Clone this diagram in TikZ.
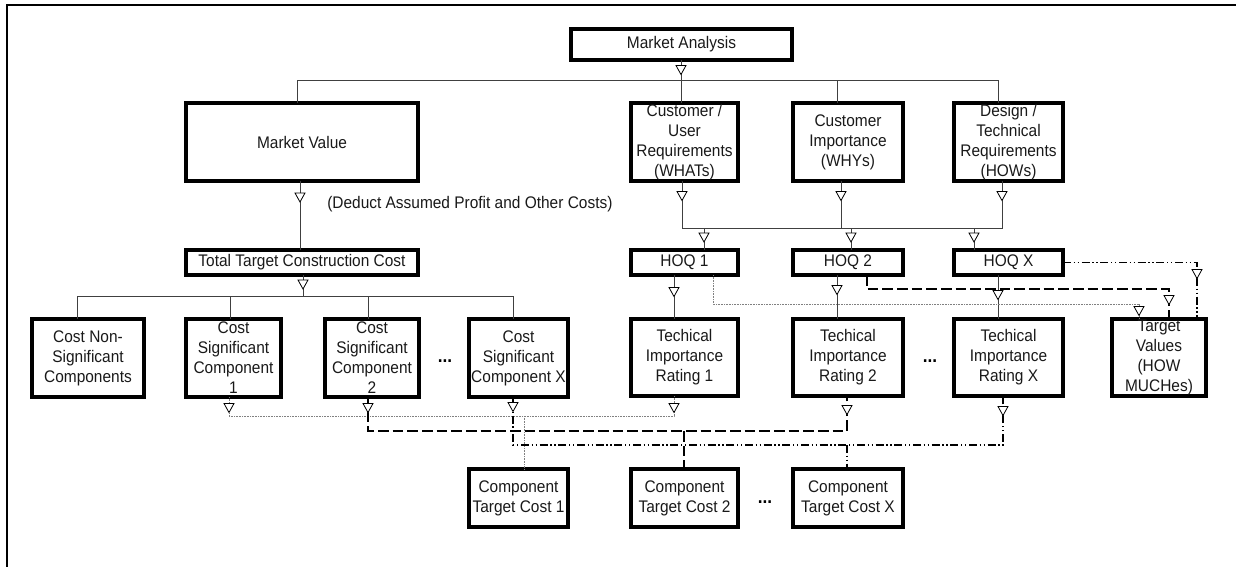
\documentclass[tikz,border=0pt]{standalone}
\usepackage{fontspec}
\setmainfont{Liberation Sans}[FakeStretch=0.92]
\tikzset{
  bx/.style={draw=black,line width=3pt,inner sep=0pt,outer sep=0pt,align=center,
    font=\fontsize{12.6}{15}\selectfont,text=black!90},
  conn/.style={draw=black!75,line width=0.75pt},
  dotl/.style={draw=black!50,line width=0.6pt,dash pattern=on 0.6pt off 0.6pt},
  dashl/.style={draw=black,line width=1.5pt,dash pattern=on 8pt off 3pt},
  ddotl/.style={draw=black,line width=1.2pt,dash pattern=on 6pt off 2pt on 1pt off 2pt on 1pt off 2pt},
  tri/.pic={\draw[black,line width=0.6pt,fill=white] (-5,-4.5) -- (5,-4.5) -- (0,4.5) -- cycle;},
  lbl/.style={font=\fontsize{12.6}{15}\selectfont,text=black!90,inner sep=0pt},
  dots/.style={font=\fontsize{14}{15}\selectfont\bfseries,inner sep=0pt}
}
\begin{document}
\begin{tikzpicture}[x=0.75pt,y=-0.75pt]
\useasboundingbox (0,0) rectangle (1236,567);
% frame
\draw[line width=2pt] (1236,5) -- (7,5) -- (7,567);

% boxes
\node[bx,minimum width=165.75pt,minimum height=23.25pt] (MA) at (681.5,44.5) {Market Analysis};
\node[bx,minimum width=174pt,minimum height=58.5pt] (MV) at (302,142) {Market Value};
\node[bx,minimum width=174pt,minimum height=18.75pt] (TTCC) at (302,262.5) {Total Target Construction Cost};
\node[bx,minimum width=80.25pt,minimum height=58.5pt] (CUR) at (684.5,142) {Customer /\\User\\Requirements\\(WHATs)};
\node[bx,minimum width=82.5pt,minimum height=58.5pt] (CI) at (848,142) {Customer\\Importance\\(WHYs)};
\node[bx,minimum width=81.75pt,minimum height=58.5pt] (DTR) at (1008.5,142) {Design /\\Technical\\Requirements\\(HOWs)};
\node[bx,minimum width=80.25pt,minimum height=18.75pt] (HOQ1) at (684.5,262.5) {HOQ 1};
\node[bx,minimum width=82.5pt,minimum height=18.75pt] (HOQ2) at (848,262.5) {HOQ 2};
\node[bx,minimum width=81.75pt,minimum height=18.75pt] (HOQX) at (1008.5,262.5) {HOQ X};
\node[bx,minimum width=80.25pt,minimum height=57.75pt] (TIR1) at (684.5,357.5) {Techical\\Importance\\Rating 1};
\node[bx,minimum width=82.5pt,minimum height=57.75pt] (TIR2) at (848,357.5) {Techical\\Importance\\Rating 2};
\node[bx,minimum width=81.75pt,minimum height=57.75pt] (TIRX) at (1008.5,357.5) {Techical\\Importance\\Rating X};
\node[bx,minimum width=70.5pt,minimum height=57.75pt] (TV) at (1159,357.5) {Target\\Values\\(HOW\\MUCHes)};
\node[bx,minimum width=84pt,minimum height=58.5pt] (CNS) at (88,358) {Cost Non-\\Significant\\Components};
\node[bx,minimum width=71.25pt,minimum height=58.5pt] (CSC1) at (233.5,358) {Cost\\Significant\\Component\\1};
\node[bx,minimum width=70.5pt,minimum height=58.5pt] (CSC2) at (372,358) {Cost\\Significant\\Component\\2};
\node[bx,minimum width=74.25pt,minimum height=58.5pt] (CSCX) at (518.5,358) {Cost\\Significant\\Component X};
\node[bx,minimum width=74.25pt,minimum height=43.5pt] (CTC1) at (518.5,498) {Component\\Target Cost 1};
\node[bx,minimum width=80.25pt,minimum height=43.5pt] (CTC2) at (684.5,498) {Component\\Target Cost 2};
\node[bx,minimum width=82.5pt,minimum height=43.5pt] (CTCX) at (848,498) {Component\\Target Cost X};

\node[lbl,anchor=west] (ded) at (327,204) {(Deduct Assumed Profit and Other Costs)};
\node[dots] (d1) at (445,361) {...};
\node[dots] (d2) at (930,361) {...};
\node[dots] (d3) at (765,502) {...};

% solid connectors
\draw[conn] (MA.south -| 681,0) -- (681,0 |- CUR.north);
\draw[conn] (297,0 |- MV.north) -- (297,81) -- (998,81) -- (998,0 |- DTR.north);
\draw[conn] (837,81) -- (837,0 |- CI.north);
\draw[conn] (300,0 |- MV.south) -- (300,0 |- TTCC.north);
\draw[conn] (303,0 |- TTCC.south) -- (303,296);
\draw[conn] (77,0 |- CNS.north) -- (77,296) -- (513,296) -- (513,0 |- CSCX.north);
\draw[conn] (230,296) -- (230,0 |- CSC1.north);
\draw[conn] (368,296) -- (368,0 |- CSC2.north);
\draw[conn] (682,0 |- CUR.south) -- (682,228) -- (1002,228) -- (1002,0 |- DTR.south);
\draw[conn] (841,0 |- CI.south) -- (841,228);
\draw[conn] (704,228) -- (704,0 |- HOQ1.north);
\draw[conn] (851,228) -- (851,0 |- HOQ2.north);
\draw[conn] (974,228) -- (974,0 |- HOQX.north);
\draw[conn] (674,0 |- HOQ1.south) -- (674,0 |- TIR1.north);
\draw[conn] (837,0 |- HOQ2.south) -- (837,0 |- TIR2.north);
\draw[conn] (998,0 |- HOQX.south) -- (998,0 |- TIRX.north);

% HOQ -> target values
\draw[dotl] (713,0 |- HOQ1.south) -- (713,304) -- (1139,304) -- (1139,0 |- TV.north);
\draw[dashl] (867,0 |- HOQ2.south) -- (867,289) -- (1169,289) -- (1169,0 |- TV.north);
\draw[ddotl] (HOQX.east) -- (1197,0 |- HOQX.east) -- (1197,0 |- TV.north);

% bottom combinations
\draw[dotl] (229,0 |- CSC1.south) -- (229,416) -- (674,416) -- (674,0 |- TIR1.south);
\draw[dotl] (524,416) -- (524,0 |- CTC1.north);
\draw[dashl] (368,0 |- CSC2.south) -- (368,431) -- (847,431) -- (847,0 |- TIR2.south);
\draw[dashl] (684,431) -- (684,0 |- CTC2.north);
\draw[ddotl] (513,0 |- CSCX.south) -- (513,445) -- (1003,445) -- (1003,0 |- TIRX.south);
\draw[ddotl] (847,445) -- (847,0 |- CTCX.north);

% arrow heads
\foreach \p in {(681,70),(300,197.5),(303,284.5),(682,196),(841,196),(1002,196),
  (704,237.5),(851,237.5),(974,237.5),(674,292),(837,290),(998,295),
  (1139,311),(1169,300),(1197,274),
  (229,408),(368,408),(513,407),(674,408),(847,410),(1003,411)}
  \pic at \p {tri};
\end{tikzpicture}
\end{document}
